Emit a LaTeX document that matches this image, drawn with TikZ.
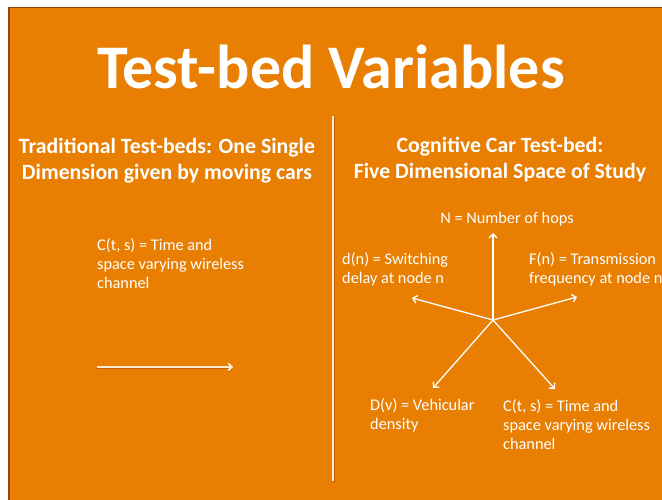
\documentclass[tikz,border=0pt]{standalone}
\usepackage{fontspec}
\setmainfont{Carlito}
\usetikzlibrary{arrows.meta}
\definecolor{bgorange}{RGB}{232,126,2}
\definecolor{edgebrown}{RGB}{150,70,10}
\definecolor{cream}{RGB}{253,236,210}
\definecolor{shadowcol}{RGB}{196,98,0}
\begin{document}
\begin{tikzpicture}[x=1pt,y=-1pt,
  title/.style={text=white,font=\bfseries\fontsize{62}{62}\selectfont,inner sep=0pt},
  heading/.style={text=white,font=\bfseries\fontsize{21.8}{26}\selectfont,align=center,inner sep=0pt},
  label/.style={text=white,font=\fontsize{16.3}{19}\selectfont,align=left,inner sep=0pt,anchor=west},
  axis/.style={draw=white,line width=1.3pt,-{Straight Barb[length=4pt,width=8pt,line width=1.3pt]}}]
\useasboundingbox (0,0) rectangle (662,500);
\clip (0,0) rectangle (662,500);
\fill[white] (0,0) rectangle (662,500);
\fill[edgebrown] (8,7) rectangle (662,500);
\fill[bgorange] (9.5,8.5) rectangle (662,500);
% title
\node[title] (ttl) at (331,67) {Test-bed Variables};
% divider
\coordinate (dvt) at (333,116);
\coordinate (dvb) at (333,481);
\draw[shadowcol,line width=2pt] ([xshift=1.2pt,yshift=-1pt]dvt) -- ([xshift=1.2pt,yshift=-1pt]dvb);
\draw[cream,line width=1.8pt] (dvt) -- (dvb);
% headings
\node[heading] (hl) at (167,161) {Traditional Test-beds: One Single\\Dimension given by moving cars};
\node[heading] (hr) at (500,160) {Cognitive Car Test-bed:\\Five Dimensional Space of Study};
% left side
\node[label] (cl) at (97,264) {C(t, s) = Time and\\space varying wireless\\channel};
\coordinate (la) at (97,367);
\coordinate (lb) at (233,367);
\draw[shadowcol,line width=2pt,-{Straight Barb[length=3.5pt,width=7pt,line width=2pt]}] ([yshift=-1.3pt]la) -- ([yshift=-1.3pt]lb);
\draw[cream,line width=1.8pt,-{Straight Barb[length=3.5pt,width=7pt,line width=1.8pt]}] (la) -- (lb);
% star
\coordinate (c) at (493,320);
\coordinate (tN) at (493,233);
\coordinate (tL) at (412,298);
\coordinate (tR) at (577,297);
\coordinate (tDL) at (433,388);
\coordinate (tDR) at (555,389);
\draw[axis] (c) -- (tN);
\draw[axis] (c) -- (tL);
\draw[axis] (c) -- (tR);
\draw[axis] (c) -- (tDL);
\draw[axis] (c) -- (tDR);
\node[label,anchor=center] (nN) at (507,219) {N = Number of hops};
\node[label] (nd) at (342,269) {d(n) = Switching\\delay at node n};
\node[label] (nF) at (529,269) {F(n) = Transmission\\frequency at node n};
\node[label] (nD) at (370,415.5) {D(v) = Vehicular\\density};
\node[label] (nC) at (503,425) {C(t, s) = Time and\\space varying wireless\\channel};
\end{tikzpicture}
\end{document}
